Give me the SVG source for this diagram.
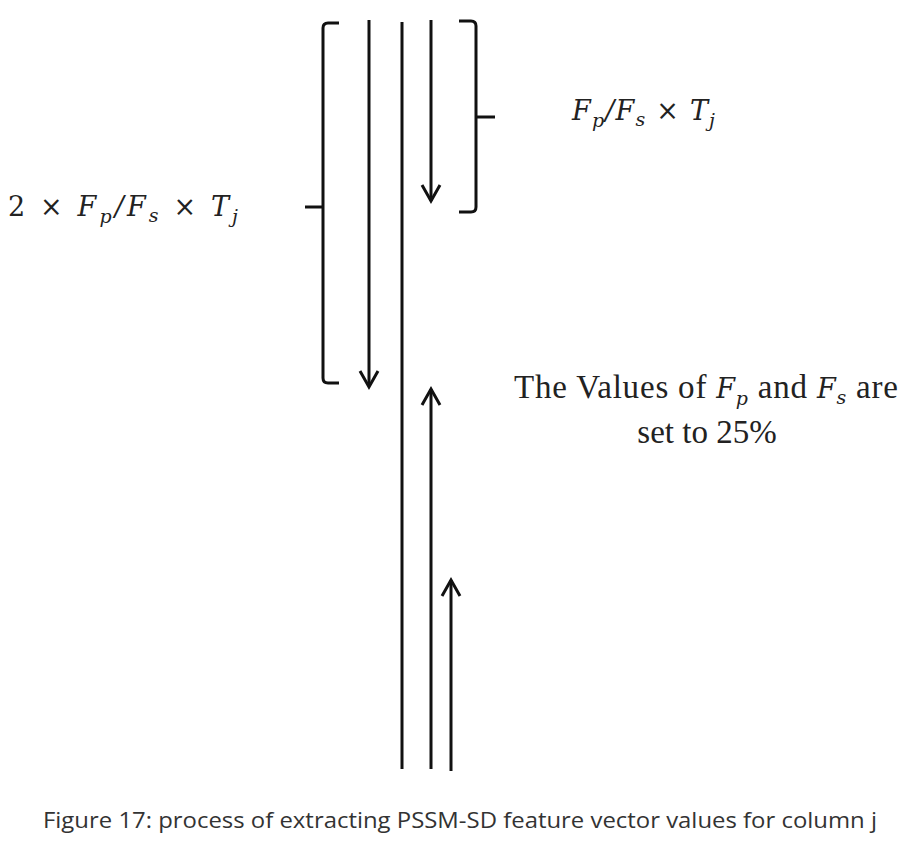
<svg xmlns="http://www.w3.org/2000/svg" width="914" height="851" viewBox="0 0 914 851">
<style>
.ln{stroke:#111;stroke-width:3;fill:none;stroke-linecap:butt}
.br{stroke:#111;stroke-width:3;fill:none;stroke-linejoin:round}
.math{font-family:"DejaVu Serif","Liberation Serif",serif;font-style:italic;font-size:27px;fill:#222}
.up{font-style:normal}
.txt{font-family:"Liberation Serif",serif;font-size:33px;fill:#222}
.cap{font-family:"Open Sans","Noto Sans",sans-serif;font-size:21px;fill:#333}
</style>
<rect width="914" height="851" fill="#fff"/>
<g id="connectors">
<line class="ln" x1="369" y1="20" x2="369" y2="386"/>
<path class="ln" d="M360,371 L369,387 L378,371"/>
<line class="ln" x1="402" y1="22" x2="402" y2="769"/>
<line class="ln" x1="431" y1="20" x2="431" y2="201"/>
<path class="ln" d="M422,185 L431,201 L440,185"/>
<line class="ln" x1="431" y1="389" x2="431" y2="769"/>
<path class="ln" d="M422,405 L431,389 L440,405"/>
<line class="ln" x1="451" y1="580" x2="451" y2="771"/>
<path class="ln" d="M442,596 L451,580 L460,596"/>
</g>
<g id="bracket-left">
<path class="br" d="M339,23 L328,23 Q323,23 323,28 L323,378 Q323,383 328,383 L339,383"/>
<line class="ln" x1="305" y1="207" x2="323" y2="207"/>
</g>
<g id="bracket-right">
<path class="br" d="M459,21 L471,21 Q476,21 476,26 L476,207 Q476,212 471,212 L459,212"/>
<line class="ln" x1="476" y1="117" x2="495" y2="117"/>
</g>
<g id="label-2fpfs">
<text class="math" x="8" y="216" textLength="230" lengthAdjust="spacing"><tspan class="up">2  × </tspan>F<tspan font-size="19" dy="7">p</tspan><tspan dy="-7">/F</tspan><tspan font-size="19" dy="6">s</tspan><tspan class="up" dy="-6">  ×  </tspan>T<tspan font-size="19" dy="7">j</tspan></text>
</g>
<g id="label-fpfs">
<text class="math" x="572" y="120" textLength="143" lengthAdjust="spacing">F<tspan font-size="19" dy="7">p</tspan><tspan dy="-7">/F</tspan><tspan font-size="19" dy="6">s</tspan><tspan class="up" dy="-6"> × </tspan>T<tspan font-size="19" dy="7">j</tspan></text>
</g>
<g id="label-values">
<text class="txt" x="514" y="398" textLength="384" lengthAdjust="spacing">The Values of <tspan font-family="DejaVu Serif" font-style="italic" font-size="27">F</tspan><tspan font-family="DejaVu Serif" font-style="italic" font-size="19" dy="7">p</tspan><tspan dy="-7"> and </tspan><tspan font-family="DejaVu Serif" font-style="italic" font-size="27">F</tspan><tspan font-family="DejaVu Serif" font-style="italic" font-size="19" dy="6">s</tspan><tspan dy="-6"> are</tspan></text>
<text class="txt" x="707" y="443" text-anchor="middle">set to 25%</text>
</g>
<g id="caption">
<text class="cap" x="43" y="828" textLength="834" lengthAdjust="spacingAndGlyphs">Figure 17: process of extracting PSSM-SD feature vector values for column j</text>
</g>
</svg>
